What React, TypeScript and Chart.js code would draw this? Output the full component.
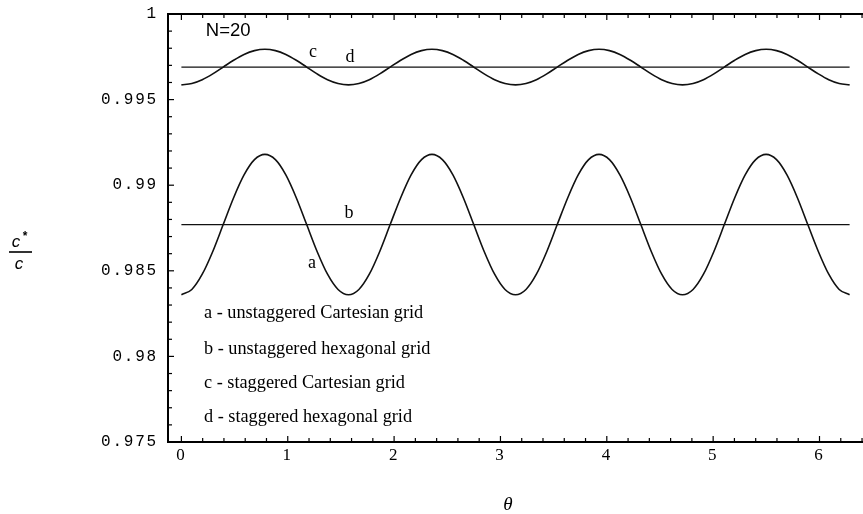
import React, { useEffect, useRef } from "react";
import { Chart, registerables } from "chart.js";

Chart.register(...registerables);

// Sample angles (radians) over one full turn, every pi/32
const thetaSamples = [
  0, 0.098, 0.196, 0.295, 0.393, 0.491, 0.589, 0.687, 0.785, 0.884, 0.982,
  1.08, 1.178, 1.276, 1.374, 1.473, 1.571, 1.669, 1.767, 1.865, 1.963, 2.062,
  2.16, 2.258, 2.356, 2.454, 2.553, 2.651, 2.749, 2.847, 2.945, 3.043, 3.142,
  3.24, 3.338, 3.436, 3.534, 3.633, 3.731, 3.829, 3.927, 4.025, 4.123, 4.222,
  4.32, 4.418, 4.516, 4.614, 4.712, 4.811, 4.909, 5.007, 5.105, 5.203, 5.301,
  5.4, 5.498, 5.596, 5.694, 5.792, 5.89, 5.989, 6.087, 6.185, 6.283,
];

// a - unstaggered Cartesian grid
const unstaggeredCartesian = [
  0.9836, 0.98391, 0.9848, 0.98613, 0.9877, 0.98927, 0.9906, 0.99149,
  0.9918, 0.99149, 0.9906, 0.98927, 0.9877, 0.98613, 0.9848, 0.98391,
  0.9836, 0.98391, 0.9848, 0.98613, 0.9877, 0.98927, 0.9906, 0.99149,
  0.9918, 0.99149, 0.9906, 0.98927, 0.9877, 0.98613, 0.9848, 0.98391,
  0.9836, 0.98391, 0.9848, 0.98613, 0.9877, 0.98927, 0.9906, 0.99149,
  0.9918, 0.99149, 0.9906, 0.98927, 0.9877, 0.98613, 0.9848, 0.98391,
  0.9836, 0.98391, 0.9848, 0.98613, 0.9877, 0.98927, 0.9906, 0.99149,
  0.9918, 0.99149, 0.9906, 0.98927, 0.9877, 0.98613, 0.9848, 0.98391,
  0.9836,
];

// c - staggered Cartesian grid
const staggeredCartesian = [
  0.99586, 0.99594, 0.99616, 0.9965, 0.9969, 0.9973, 0.99764, 0.99786,
  0.99794, 0.99786, 0.99764, 0.9973, 0.9969, 0.9965, 0.99616, 0.99594,
  0.99586, 0.99594, 0.99616, 0.9965, 0.9969, 0.9973, 0.99764, 0.99786,
  0.99794, 0.99786, 0.99764, 0.9973, 0.9969, 0.9965, 0.99616, 0.99594,
  0.99586, 0.99594, 0.99616, 0.9965, 0.9969, 0.9973, 0.99764, 0.99786,
  0.99794, 0.99786, 0.99764, 0.9973, 0.9969, 0.9965, 0.99616, 0.99594,
  0.99586, 0.99594, 0.99616, 0.9965, 0.9969, 0.9973, 0.99764, 0.99786,
  0.99794, 0.99786, 0.99764, 0.9973, 0.9969, 0.9965, 0.99616, 0.99594,
  0.99586,
];

// Hexagonal grids are isotropic: flat lines over the whole range
const hexTheta = [0, 6.283];
const unstaggeredHexagonal = [0.9877, 0.9877]; // b
const staggeredHexagonal = [0.9969, 0.9969]; // d

const legendLines = [
  "a - unstaggered Cartesian grid",
  "b - unstaggered hexagonal grid",
  "c - staggered Cartesian grid",
  "d - staggered hexagonal grid",
];
const curveLetters = ["a", "b", "c", "d"];
const panelNote = "N=20";
const xTitle = "θ";

const X_MIN = -0.126;
const X_MAX = 6.409;
const Y_MIN = 0.975;
const Y_MAX = 1;

const toPoints = (xs: number[], ys: number[]) => xs.map((x, i) => ({ x, y: ys[i] }));

const serif = "'Liberation Serif', 'Times New Roman', serif";
const mono = "'Liberation Mono', 'Courier New', monospace";
const sans = "'Liberation Sans', Arial, sans-serif";

const framePlugin = {
  id: "frameDecor",
  beforeDraw(chart: any) {
    // spaced-out typewriter tick numbers
    chart.ctx.letterSpacing = "1.8px";
  },
  beforeDatasetsDraw(chart: any) {
    chart.ctx.letterSpacing = "0px";
  },
  afterDraw(chart: any) {
    const { ctx, chartArea } = chart;
    const xs = chart.scales.x;
    const ys = chart.scales.y;
    const { left, right, top, bottom } = chartArea;
    ctx.save();
    ctx.letterSpacing = "0px";
    ctx.strokeStyle = "#000";
    ctx.fillStyle = "#000";

    // top frame line
    ctx.lineWidth = 2;
    ctx.beginPath();
    ctx.moveTo(left - 1, top);
    ctx.lineTo(right, top);
    ctx.stroke();

    // inward ticks, major and minor
    ctx.lineWidth = 1.2;
    for (let k = 0; k <= 25; k++) {
      const v = Y_MIN + k * 0.001;
      const py = ys.getPixelForValue(v);
      const len = k % 5 === 0 ? 6 : 4;
      ctx.beginPath();
      ctx.moveTo(left, py);
      ctx.lineTo(left + len, py);
      ctx.stroke();
    }
    for (let k = 0; k <= 32; k++) {
      const v = k * 0.2;
      if (v > X_MAX) break;
      const px = xs.getPixelForValue(v);
      const len = k % 5 === 0 ? 6 : 4;
      ctx.beginPath();
      ctx.moveTo(px, bottom);
      ctx.lineTo(px, bottom - len);
      ctx.moveTo(px, top);
      ctx.lineTo(px, top + len);
      ctx.stroke();
    }

    // curve letters
    ctx.font = `18px ${serif}`;
    ctx.textAlign = "center";
    ctx.textBaseline = "middle";
    const letterAnchors = [
      [1.228, 0.98543],
      [1.576, 0.98836],
      [1.237, 0.99776],
      [1.585, 0.99745],
    ];
    curveLetters.forEach((t, i) => {
      ctx.fillText(t, xs.getPixelForValue(letterAnchors[i][0]), ys.getPixelForValue(letterAnchors[i][1]));
    });

    // panel note
    ctx.font = `18.5px ${sans}`;
    ctx.textAlign = "left";
    ctx.fillText(panelNote, xs.getPixelForValue(0.23), ys.getPixelForValue(0.99899));

    // key
    ctx.font = `18.3px ${serif}`;
    const keyValues = [0.9825, 0.98045, 0.97846, 0.97647];
    legendLines.forEach((t, i) => {
      ctx.fillText(t, xs.getPixelForValue(0.212), ys.getPixelForValue(keyValues[i]));
    });

    // x title
    ctx.font = `italic 19px ${serif}`;
    ctx.textAlign = "center";
    ctx.fillText(xTitle, 508, 505);

    // y title: c* over c
    ctx.font = `italic 17px ${sans}`;
    ctx.fillText("c", 16, 242);
    ctx.font = `bold 12px ${sans}`;
    ctx.fillText("*", 25, 237);
    ctx.lineWidth = 1.6;
    ctx.beginPath();
    ctx.moveTo(9, 252);
    ctx.lineTo(32, 252);
    ctx.stroke();
    ctx.font = `italic 17px ${sans}`;
    ctx.fillText("c", 19, 264);

    ctx.restore();
  },
};

export default function App() {
  const canvasRef = useRef<HTMLCanvasElement>(null);

  useEffect(() => {
    if (!canvasRef.current) return;
    const line = (data: any, width: number) => ({
      data,
      borderColor: "#111",
      borderWidth: width,
      pointRadius: 0,
      fill: false,
      cubicInterpolationMode: "monotone" as const,
    });
    const chart = new Chart(canvasRef.current, {
      type: "line",
      data: {
        datasets: [
          line(toPoints(thetaSamples, unstaggeredCartesian), 1.6),
          line(toPoints(hexTheta, unstaggeredHexagonal), 1.3),
          line(toPoints(thetaSamples, staggeredCartesian), 1.6),
          line(toPoints(hexTheta, staggeredHexagonal), 1.3),
        ],
      },
      options: {
        responsive: false,
        animation: false,
        devicePixelRatio: 1,
        layout: { padding: { top: 14, left: 0, right: 0, bottom: 0 } },
        plugins: { legend: { display: false }, tooltip: { enabled: false } },
        scales: {
          x: {
            type: "linear",
            min: X_MIN,
            max: X_MAX,
            grid: { display: false, drawTicks: false },
            border: { display: true, color: "#000", width: 2 },
            ticks: {
              stepSize: 1,
              includeBounds: false,
              padding: 3,
              color: "#000",
              maxRotation: 0,
              font: { family: serif, size: 17 },
              callback: (v: any) => String(v),
            },
            afterFit: (s: any) => {
              s.height = 72;
              s.paddingLeft = 0;
              s.paddingRight = 0;
            },
          },
          y: {
            type: "linear",
            min: Y_MIN,
            max: Y_MAX,
            grid: { display: false, drawTicks: false },
            border: { display: true, color: "#000", width: 2 },
            ticks: {
              stepSize: 0.005,
              padding: 10,
              color: "#000",
              font: { family: mono, size: 16 },
              callback: (v: any) => String(parseFloat(Number(v).toFixed(3))),
            },
            afterFit: (s: any) => {
              s.width = 168;
              s.paddingTop = 0;
              s.paddingBottom = 0;
            },
          },
        },
      },
      plugins: [framePlugin],
    });
    return () => chart.destroy();
  }, []);

  return (
    <div style={{ position: "fixed", left: 0, top: 0, width: 863, height: 514, background: "#fff", overflow: "hidden" }}>
      <canvas ref={canvasRef} width={863} height={514} style={{ display: "block", width: 863, height: 514 }} />
    </div>
  );
}
